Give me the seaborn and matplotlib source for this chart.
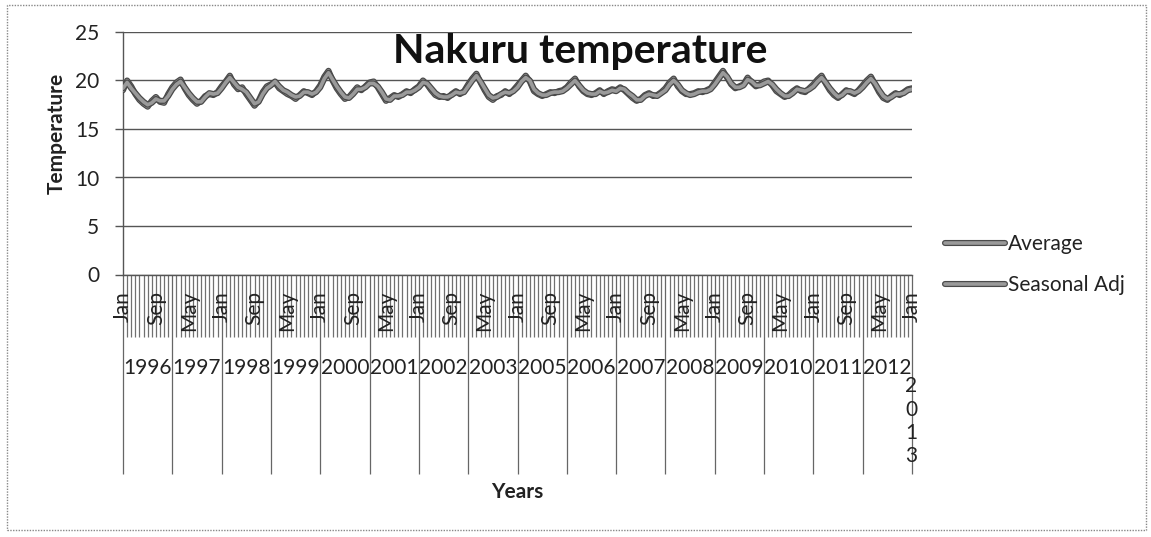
import matplotlib
matplotlib.use("Agg")
import matplotlib.pyplot as plt
import matplotlib.patheffects as pe
from matplotlib.patches import Rectangle
from matplotlib.transforms import blended_transform_factory
import seaborn as sns
import pandas as pd

# ---------------- data ----------------
average = [
    19.0, 20.0, 19.4, 18.6, 18.0, 17.6, 17.3, 17.9, 18.3, 17.8, 17.7, 18.6,   # 1996
    19.3, 19.8, 20.1, 19.2, 18.5, 18.0, 17.6, 17.9, 18.4, 18.6, 18.5, 18.8,   # 1997
    19.4, 19.9, 20.5, 19.6, 19.1, 19.3, 18.6, 18.0, 17.4, 17.9, 18.8, 19.4,   # 1998
    19.6, 19.8, 19.2, 18.9, 18.6, 18.4, 18.1, 18.5, 18.9, 18.7, 18.5, 18.9,   # 1999
    19.5, 20.4, 21.0, 20.0, 19.2, 18.6, 18.1, 18.3, 18.8, 19.3, 19.0, 19.4,   # 2000
    19.8, 19.9, 19.3, 18.6, 17.9, 18.2, 18.5, 18.3, 18.6, 18.9, 18.7, 19.1,   # 2001
    19.4, 20.0, 19.6, 19.0, 18.5, 18.3, 18.4, 18.2, 18.6, 18.9, 18.6, 18.9,   # 2002
    19.6, 20.2, 20.7, 19.8, 19.0, 18.3, 18.0, 18.4, 18.5, 18.9, 18.6, 19.0,   # 2003
    19.5, 20.0, 20.5, 19.9, 18.9, 18.6, 18.4, 18.6, 18.8, 18.7, 18.9, 19.0,   # 2005
    19.3, 19.8, 20.2, 19.4, 18.9, 18.6, 18.5, 18.7, 19.0, 18.6, 18.9, 19.1,   # 2006
    19.0, 19.3, 19.0, 18.6, 18.2, 17.9, 18.1, 18.5, 18.7, 18.4, 18.5, 18.8,   # 2007
    19.2, 19.8, 20.2, 19.4, 18.9, 18.6, 18.6, 18.7, 18.9, 18.8, 19.0, 19.2,   # 2008
    19.8, 20.4, 21.0, 20.3, 19.6, 19.2, 19.4, 19.6, 20.3, 19.8, 19.4, 19.6,   # 2009
    19.9, 20.0, 19.5, 18.9, 18.6, 18.3, 18.5, 18.9, 19.2, 18.9, 18.8, 19.2,   # 2010
    19.6, 20.1, 20.5, 19.7, 19.0, 18.5, 18.2, 18.6, 19.0, 18.8, 18.6, 19.0,   # 2011
    19.5, 20.0, 20.4, 19.6, 18.8, 18.2, 18.0, 18.4, 18.7, 18.5, 18.8, 19.1,   # 2012
    19.2,                                                                     # 2013
]
seasonal_adj = [
    19.2, 19.8, 19.2, 18.7, 18.2, 17.8, 17.5, 17.7, 18.1, 17.9, 17.9, 18.4,
    19.1, 19.6, 19.9, 19.3, 18.7, 18.2, 17.8, 17.8, 18.3, 18.7, 18.6, 18.7,
    19.2, 19.8, 20.3, 19.8, 19.3, 19.1, 18.8, 18.2, 17.6, 17.8, 18.6, 19.2,
    19.5, 19.9, 19.4, 19.0, 18.8, 18.5, 18.3, 18.4, 18.8, 18.8, 18.6, 18.8,
    19.3, 20.2, 20.8, 20.1, 19.4, 18.8, 18.3, 18.2, 18.6, 19.1, 19.1, 19.3,
    19.7, 19.7, 19.4, 18.8, 18.1, 18.0, 18.4, 18.4, 18.5, 18.8, 18.8, 19.0,
    19.3, 19.8, 19.7, 19.2, 18.7, 18.4, 18.3, 18.3, 18.5, 18.8, 18.7, 18.8,
    19.4, 20.0, 20.5, 19.9, 19.2, 18.5, 18.2, 18.3, 18.6, 18.8, 18.7, 18.9,
    19.3, 19.9, 20.3, 20.0, 19.1, 18.7, 18.5, 18.5, 18.7, 18.8, 18.8, 18.9,
    19.2, 19.6, 20.0, 19.5, 19.0, 18.7, 18.6, 18.6, 18.9, 18.7, 18.8, 19.0,
    18.9, 19.2, 19.1, 18.7, 18.4, 18.0, 18.0, 18.4, 18.6, 18.5, 18.4, 18.7,
    19.0, 19.6, 20.0, 19.6, 19.0, 18.7, 18.5, 18.6, 18.8, 18.9, 18.9, 19.1,
    19.6, 20.2, 20.8, 20.4, 19.7, 19.3, 19.3, 19.5, 20.1, 19.9, 19.5, 19.5,
    19.7, 19.9, 19.6, 19.1, 18.7, 18.4, 18.4, 18.7, 19.1, 19.0, 18.9, 19.1,
    19.4, 19.9, 20.3, 19.8, 19.2, 18.7, 18.3, 18.5, 18.9, 18.9, 18.7, 18.9,
    19.3, 19.8, 20.2, 19.7, 19.0, 18.4, 18.1, 18.3, 18.6, 18.6, 18.7, 19.0,
    19.1,
]
month_labels = ["Jan", "Sep", "May", "Jan", "Sep", "May", "Jan", "Sep", "May",
                "Jan", "Sep", "May", "Jan", "Sep", "May", "Jan", "Sep", "May",
                "Jan", "Sep", "May", "Jan", "Sep", "May", "Jan"]
year_labels = ["1996", "1997", "1998", "1999", "2000", "2001", "2002", "2003",
               "2005", "2006", "2007", "2008", "2009", "2010", "2011", "2012"]
last_year_label = "2013"
series_names = ["Average", "Seasonal Adj"]
y_ticks = [0, 5, 10, 15, 20, 25]

# ---------------- figure ----------------
sns.set_theme(style="white")
plt.rcParams["font.family"] = ["Lato", "DejaVu Sans"]

W, H = 1151, 537
fig = plt.figure(figsize=(W / 100, H / 100), dpi=100)
ax = fig.add_axes([123 / W, 1 - 274.5 / H, (912 - 123) / W, (274.5 - 32) / H])

n = len(average)
df = pd.DataFrame({
    "idx": list(range(n)) * 2,
    "Temperature": average + seasonal_adj,
    "Series": [series_names[0]] * n + [series_names[1]] * n,
})
sns.lineplot(data=df, x="idx", y="Temperature", hue="Series",
             palette={series_names[0]: "#9a9a9a", series_names[1]: "#9a9a9a"},
             linewidth=2.6, legend=False, ax=ax, zorder=3)
for ln in ax.lines:
    ln.set_path_effects([pe.Stroke(linewidth=4.4, foreground="#4a4a4a"), pe.Normal()])
    ln.set_solid_joinstyle("round")

grid_c = "#555555"
ax.set_ylim(0, 25)
ax.set_xlim(0, n - 1)
ax.set_yticks(y_ticks)
ax.set_yticklabels([str(v) for v in y_ticks], fontsize=15, color="#222222")
ax.yaxis.grid(True, color=grid_c, linewidth=1.0)
ax.xaxis.grid(False)
ax.tick_params(axis="y", which="major", direction="out", length=6, width=1.0,
               color=grid_c, pad=11, left=True)

# x axis: year divider ticks (major) and every-category ticks (minor)
ax.set_xticks(list(range(0, n, 12)))
ax.set_xticklabels([""] * len(range(0, n, 12)))
ax.set_xticks(list(range(n)), minor=True)
ax.tick_params(axis="x", which="major", direction="out", length=143, width=0.9,
               color="#666666", bottom=True)
ax.tick_params(axis="x", which="minor", direction="out", length=44.5, width=0.9,
               color="#707070", bottom=True)

for side in ["top", "right"]:
    ax.spines[side].set_visible(False)
for side in ["left", "bottom"]:
    ax.spines[side].set_color(grid_c)
    ax.spines[side].set_linewidth(1.0)
ax.set_xlabel("")
ax.set_ylabel("")

trans = blended_transform_factory(ax.transData, ax.transAxes)
for i, lab in enumerate(month_labels):
    ax.text(i * 8, -0.068, lab, rotation=90, ha="center", va="top",
            fontsize=15, color="#222222", transform=trans, clip_on=False)
for k, lab in enumerate(year_labels):
    ax.text(k * 12 + 6, -0.386, lab, ha="center", va="center",
            fontsize=15, color="#222222", transform=trans, clip_on=False)
ax.text(n - 1.2, -0.42, "\n".join(last_year_label), ha="center", va="top",
        fontsize=15, color="#222222", linespacing=1.2, transform=trans, clip_on=False)

# axis titles and chart title
ax.text(0.5, -0.897, "Years", ha="center", va="center", fontsize=15,
        fontweight="bold", color="#222222", transform=ax.transAxes)
fig.text(57 / W, 1 - 133 / H, "Temperature", rotation=90, ha="center", va="center",
         fontsize=15, fontweight="bold", color="#222222")
fig.text(580 / W, 1 - 52 / H, "Nakuru temperature", ha="center", va="center",
         fontsize=29.5, fontweight="bold", color="#111111")

# legend
leg = ax.legend(handles=ax.lines[:2], labels=series_names, loc="upper left",
                bbox_to_anchor=(945 / W, 1 - 234 / H), bbox_transform=fig.transFigure,
                frameon=False, fontsize=15, handlelength=2.9, handletextpad=0.1,
                labelspacing=1.0, borderpad=0, borderaxespad=0)
for t in leg.get_texts():
    t.set_color("#222222")

# outer chart border
fig.patches.append(Rectangle((7 / W, 1 - 530 / H), (1146 - 7) / W, (530 - 5) / H,
                             transform=fig.transFigure, fill=False,
                             edgecolor="#888888", linewidth=1.0, linestyle=(0, (1, 1))))

fig.savefig("out.png", dpi=100, facecolor="white")
